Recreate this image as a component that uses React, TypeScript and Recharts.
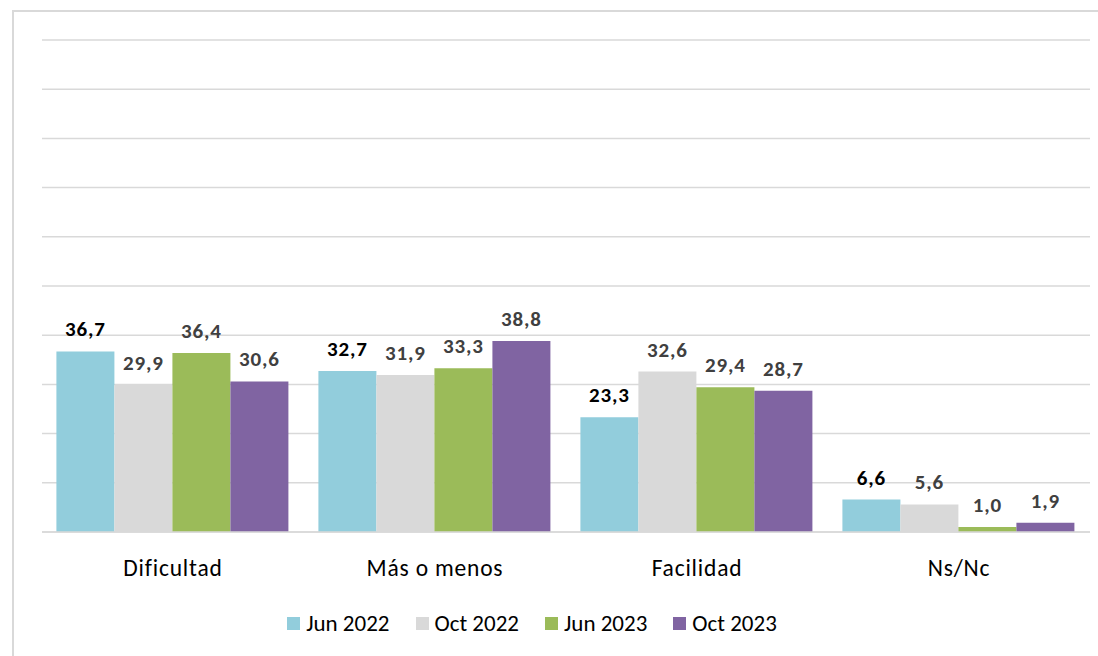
import React from 'react';
import { BarChart, Bar, XAxis, YAxis, CartesianGrid, Legend, LabelList } from 'recharts';

const categories = ['Dificultad', 'Más o menos', 'Facilidad', 'Ns/Nc'];
const jun2022 = [36.7, 32.7, 23.3, 6.6];
const oct2022 = [29.9, 31.9, 32.6, 5.6];
const jun2023 = [36.4, 33.3, 29.4, 1.0];
const oct2023 = [30.6, 38.8, 28.7, 1.9];
const yTicks = [0, 10, 20, 30, 40, 50, 60, 70, 80, 90, 100];

const seriesNames = ['Jun 2022', 'Oct 2022', 'Jun 2023', 'Oct 2023'];
const seriesColors = ['#92CDDC', '#D9D9D9', '#9BBB59', '#8064A2'];
const labelColors = ['#000000', '#404040', '#404040', '#404040'];
const seriesKeys = ['s0', 's1', 's2', 's3'];

const data = categories.map((c, i) => ({
  name: c,
  s0: jun2022[i],
  s1: oct2022[i],
  s2: jun2023[i],
  s3: oct2023[i],
}));

const FONT = 'Carlito, Calibri, Lato, "Open Sans", sans-serif';

const fmt = (v: any) => Number(v).toFixed(1).replace('.', ',');

const CatTick = (props: any) => {
  const { x, y, payload } = props;
  return (
    <text x={x} y={y + 35.5} textAnchor="middle" fontSize={23.5} letterSpacing={0.8} fill="#000" fontFamily={FONT}>
      {payload.value}
    </text>
  );
};

const LegendContent = () => (
  <div style={{ display: 'flex', justifyContent: 'center', fontFamily: FONT, fontSize: 23, color: '#000', marginTop: 2, paddingRight: 68 }}>
    {seriesNames.map((n, i) => (
      <div key={n} style={{ display: 'flex', alignItems: 'center', marginRight: i < 3 ? 26 : 0 }}>
        <span style={{ display: 'inline-block', width: 13, height: 13, background: seriesColors[i], marginRight: 6 }} />
        <span>{n}</span>
      </div>
    ))}
  </div>
);

export default function App() {
  return (
    <div style={{ position: 'absolute', left: 0, top: 0, width: 1098, height: 656, background: '#fff', overflow: 'hidden' }}>
      <div style={{ position: 'absolute', left: 12, top: 10, width: 1200, height: 800, border: '2px solid #D9D9D9' }} />
      <div style={{ position: 'absolute', left: 0, top: 0 }}>
        <BarChart
          width={1098}
          height={656}
          data={data}
          margin={{ top: 40, right: 8, left: 42, bottom: 19 }}
          barCategoryGap="5.5%"
          barGap={0}
        >
          <CartesianGrid vertical={false} stroke="#D9D9D9" strokeWidth={1.5} />
          <YAxis hide domain={[0, 100]} ticks={yTicks} />
          <XAxis
            dataKey="name"
            height={75}
            axisLine={{ stroke: '#D9D9D9', strokeWidth: 1.5 }}
            tickLine={false}
            tick={<CatTick />}
            interval={0}
          />
          <Legend verticalAlign="bottom" height={30} content={<LegendContent />} />
          {seriesKeys.map((k, i) => (
            <Bar key={k} dataKey={k} name={seriesNames[i]} fill={seriesColors[i]} isAnimationActive={false}>
              <LabelList
                dataKey={k}
                position="top"
                offset={15}
                formatter={fmt}
                style={{ fontFamily: FONT, fontSize: 21, fontWeight: 'bold', fill: labelColors[i], letterSpacing: 0.9 }}
              />
            </Bar>
          ))}
        </BarChart>
      </div>
    </div>
  );
}
